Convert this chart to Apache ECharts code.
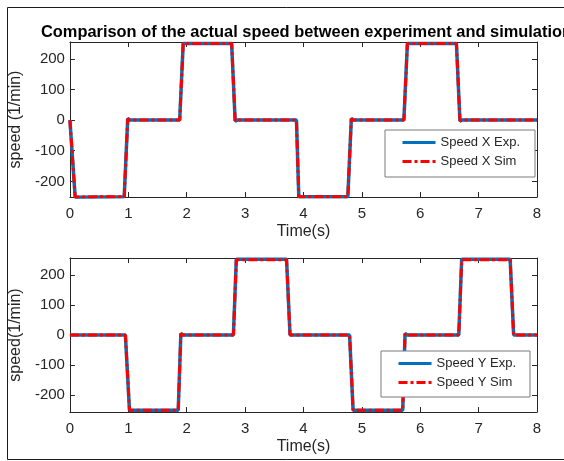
<!DOCTYPE html>
<html>
<head>
<meta charset="utf-8">
<script src="https://cdn.jsdelivr.net/npm/echarts@6/dist/echarts.min.js"></script>
<style>html,body{margin:0;padding:0;background:#fff}#c{width:564px;height:461px}</style>
</head>
<body>
<div id="c"></div>
<script>
// ---- data ----
const titleText = 'Comparison of the actual speed between experiment and simulation';
const xTickLabels = ['0','1','2','3','4','5','6','7','8'];

const timeX     = [0, 0.02, 0.09, 0.10, 0.93, 0.99, 1.00, 1.03, 1.88, 1.94, 2.77, 2.83, 2.84, 2.87, 3.88, 3.92, 4.76, 4.82, 4.83, 4.86, 5.72, 5.78, 6.62, 6.68, 6.69, 6.72, 8];
const speedXExp = [0, 0, -252, -250, -250, 5, 8, 0, 0, 250, 250, -3, -6, 0, 0, -250, -250, 5, 8, 0, 0, 250, 250, -3, -6, 0, 0];
const speedXSim = [0, 0, -251, -250, -250, 4, 6, 0, 0, 250, 250, -2, -4, 0, 0, -250, -250, 4, 6, 0, 0, 250, 250, -2, -4, 0, 0];

const timeY     = [0, 0.95, 1.02, 1.855, 1.90, 1.91, 1.94, 2.80, 2.85, 3.71, 3.77, 4.79, 4.85, 5.70, 5.74, 5.75, 5.78, 6.66, 6.71, 7.54, 7.60, 8];
const speedYExp = [0, 0, -250, -250, 5, 8, 0, 0, 252, 252, 0, 0, -250, -250, 5, 8, 0, 0, 252, 252, 0, 0];
const speedYSim = [0, 0, -250, -250, 4, 6, 0, 0, 250, 250, 0, 0, -250, -250, 4, 6, 0, 0, 250, 250, 0, 0];

const seriesNames = ['Speed X Exp.', 'Speed X Sim', 'Speed Y Exp.', 'Speed Y Sim'];
const yRanges = [[-251, 255], [-256, 256]];

// ---- helpers ----
const pair = (t, v) => t.map((x, i) => [x, v[i]]);
const txt = '#262626';
const FONT = 'Liberation Sans, Arial, Helvetica, sans-serif';

function xAx(grid, pos, withLabels) {
  return {
    gridIndex: grid, type: 'value', min: 0, max: 8, interval: 1, position: pos,
    axisLine: { show: true, onZero: false, lineStyle: { color: txt, width: 1 } },
    axisTick: { show: true, inside: true, length: 5, lineStyle: { color: txt } },
    axisLabel: { show: withLabels, color: txt, fontSize: 15, fontFamily: FONT, margin: 9,
                 formatter: v => xTickLabels[Math.round(v)] },
    splitLine: { show: false },
    name: withLabels ? 'Time(s)' : '', nameLocation: 'middle', nameGap: 27,
    nameTextStyle: { color: txt, fontSize: 16, fontFamily: FONT }
  };
}
function yAx(grid, pos, withLabels, name) {
  return {
    gridIndex: grid, type: 'value', min: yRanges[grid][0], max: yRanges[grid][1], position: pos,
    axisLine: { show: true, onZero: false, lineStyle: { color: txt, width: 1 } },
    axisTick: { show: true, inside: true, length: 5, lineStyle: { color: txt } },
    axisLabel: { show: withLabels, color: txt, fontSize: 15, fontFamily: FONT, margin: 5,
                 showMinLabel: false, showMaxLabel: false,
                 formatter: v => (Math.round(v) % 100 === 0 ? String(Math.round(v)) : '') },
    splitLine: { show: false },
    name: withLabels ? name : '', nameLocation: 'middle', nameGap: 38,
    nameTextStyle: { color: txt, fontSize: 16, fontFamily: FONT }
  };
}
function lineSeries(name, xi, data, isSim) {
  return {
    name, type: 'line', xAxisIndex: xi, yAxisIndex: xi, data, symbol: 'none',
    showSymbol: false, animation: false, z: isSim ? 3 : 2,
    lineStyle: isSim ? { color: '#FF0000', width: 3, type: [9, 3, 3, 3] }
                     : { color: '#0072BD', width: 3.5, type: 'solid' },
    itemStyle: { color: isSim ? '#FF0000' : '#0072BD' }
  };
}
function legend(names, left, top, padRight, padBottom) {
  return {
    data: names, orient: 'vertical', left, top, itemWidth: 33, itemHeight: 14, itemGap: 6,
    padding: [6, padRight, padBottom, 16], borderColor: '#7a7a7a', borderWidth: 1, backgroundColor: '#fff',
    itemStyle: { opacity: 0, color: 'rgba(0,0,0,0)', borderWidth: 0 },
    lineStyle: { width: 3 },
    textStyle: { color: txt, fontSize: 13, fontFamily: FONT }, selectedMode: false
  };
}

const chart = echarts.init(document.getElementById('c'), null, { renderer: 'canvas' });
chart.setOption({
  backgroundColor: '#fff',
  animation: false,
  title: { text: titleText, left: 36, top: 19,
           textStyle: { color: '#000', fontSize: 16.4, fontWeight: 'bold', fontFamily: FONT } },
  graphic: [{ type: 'polyline', shape: { points: [[600, 7.5], [7.5, 7.5], [7.5, 459.5], [600, 459.5]] },
              style: { fill: null, stroke: '#1a1a1a', lineWidth: 1 }, silent: true, z: -10 }],
  grid: [
    { left: 67, top: 42, width: 470, height: 155 },
    { left: 67, top: 258, width: 470, height: 154 }
  ],
  xAxis: [xAx(0, 'bottom', true), xAx(0, 'top', false), xAx(1, 'bottom', true), xAx(1, 'top', false)],
  yAxis: [yAx(0, 'left', true, 'speed (1/min)'), yAx(0, 'right', false), yAx(1, 'left', true, 'speed(1/min)'), yAx(1, 'right', false)],
  legend: [legend([seriesNames[0], seriesNames[1]], 385, 130, 15, 9), legend([seriesNames[2], seriesNames[3]], 381, 351, 14, 8)],
  series: [
    lineSeries(seriesNames[0], 0, pair(timeX, speedXExp), false),
    lineSeries(seriesNames[1], 0, pair(timeX, speedXSim), true),
    lineSeries(seriesNames[2], 2, pair(timeY, speedYExp), false),
    lineSeries(seriesNames[3], 2, pair(timeY, speedYSim), true)
  ]
});
</script>
</body>
</html>
